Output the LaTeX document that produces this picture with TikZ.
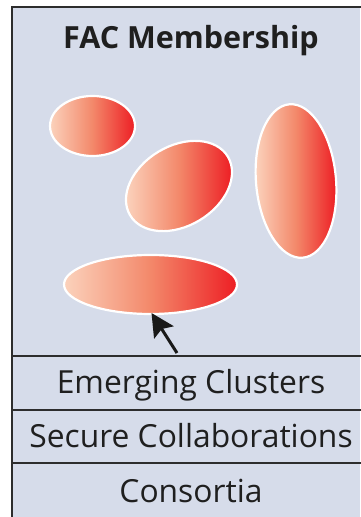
\documentclass[tikz,border=0pt]{standalone}
\usepackage{fontspec}
\setmainfont{Open Sans}
\usetikzlibrary{arrows.meta,calc}

\definecolor{panelbg}{RGB}{214,220,234}
\definecolor{frameline}{RGB}{45,45,45}
\definecolor{clLight}{RGB}{251,210,188}
\definecolor{clMid}{RGB}{243,136,106}
\definecolor{clRed}{RGB}{237,30,36}

% horizontal light-to-red gradient used inside every cluster
\pgfdeclarehorizontalshading{clustershade}{100bp}{%
  color(0bp)=(clLight); color(25bp)=(clLight); color(50bp)=(clMid);
  color(75bp)=(clRed); color(100bp)=(clRed)}

% \cluster{name}{cx}{cy}{semi-axis a}{semi-axis b}{angle}
\newcommand\cluster[6]{%
  \pgfmathsetmacro\hw{sqrt((#4*cos(#6))^2+(#5*sin(#6))^2)}%
  \pgfmathsetmacro\hh{sqrt((#4*sin(#6))^2+(#5*cos(#6))^2)}%
  \coordinate (#1) at (#2,#3);
  \begin{scope}
    \clip[rotate around={#6:(#1)}] (#1) ellipse[x radius=#4, y radius=#5];
    \shade[shading=clustershade] ($(#1)+(-\hw,-\hh)$) rectangle ($(#1)+(\hw,\hh)$);
  \end{scope}
  \draw[clusterrim, rotate around={#6:(#1)}] (#1) ellipse[x radius=#4, y radius=#5];
}

\begin{document}
\begin{tikzpicture}[x=1pt,y=1pt,
  clusterrim/.style={draw=white, line width=2.2pt},
  frame/.style={draw=frameline, line width=2pt},
  divider/.style={draw=frameline, line width=1.5pt},
  title/.style={font=\fontsize{30.5}{34}\selectfont\bfseries, text=black!88, anchor=base},
  tier/.style={font=\fontsize{31.8}{34}\selectfont, text=black!88, anchor=base},
  pointer/.style={draw=black!90, line width=3pt, -{Stealth[length=23pt,width=23pt,inset=4pt]}}]

  % canvas and panel
  \useasboundingbox (0,0) rectangle (360,517);
  \fill[panelbg] (12,0) rectangle (360,510);
  \draw[frame] (12,0) -- (12,510) -- (361,510);

  % tier dividers
  \draw[divider] (12,161) -- (361,161);
  \draw[divider] (12,107) -- (361,107);
  \draw[divider] (12,54) -- (361,54);

  % texts
  \node[title] (head) at (191,468) {FAC Membership};
  \node[tier] (emerging) at (191,123) {Emerging Clusters};
  \node[tier] (secure) at (191,69) {Secure Collaborations};
  \node[tier] (consortia) at (191,15) {Consortia};

  % clusters
  \cluster{clA}{92.5}{391}{42.5}{30}{0}
  \cluster{clB}{179}{331}{57}{40}{31}
  \cluster{clC}{296}{336}{77}{40}{95}
  \cluster{clD}{150.5}{232.5}{86.5}{29.5}{0}

  % pointer onto the lower cluster
  \coordinate (clD-south) at (151.5,204);
  \coordinate (tail) at (177,164);
  \draw[pointer] (tail) -- (clD-south);
\end{tikzpicture}
\end{document}
